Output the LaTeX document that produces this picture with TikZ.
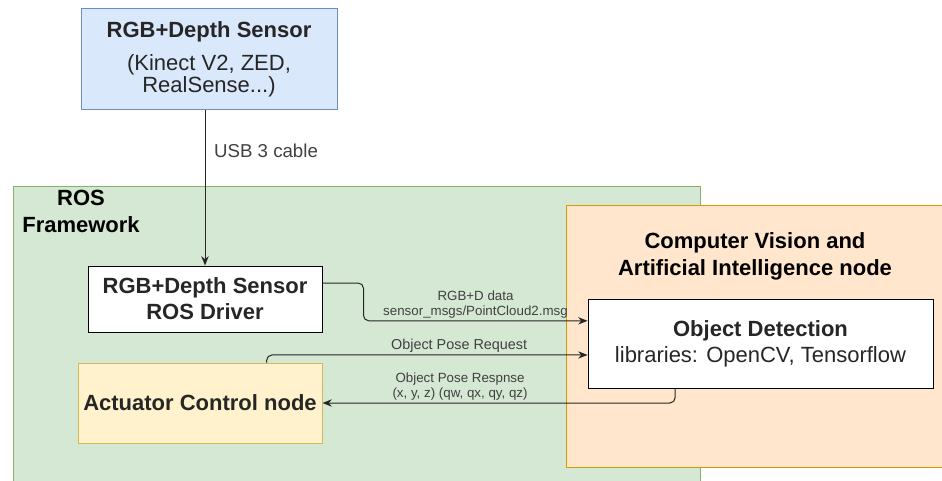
\documentclass[tikz,border=0pt]{standalone}
\usepackage{fontspec}
\setmainfont{Liberation Sans}
\usetikzlibrary{arrows.meta}

\definecolor{sensorfill}{RGB}{218,232,252}
\definecolor{sensorline}{RGB}{108,142,191}
\definecolor{rosfill}{RGB}{213,232,212}
\definecolor{rosline}{RGB}{130,179,102}
\definecolor{actfill}{RGB}{255,242,204}
\definecolor{actline}{RGB}{214,182,86}
\definecolor{cvfill}{RGB}{255,230,204}
\definecolor{cvline}{RGB}{215,155,0}

\begin{document}
\begin{tikzpicture}[x=0.75pt,y=0.75pt,yscale=-1,
  box/.style={draw=black, line width=0.75pt, inner sep=0pt, align=center, text=black!85,
    font=\fontsize{16.5}{19.5}\selectfont},
  title/.style={inner sep=0pt, align=center, font=\bfseries\fontsize{16.5}{20.25}\selectfont},
  flow/.style={draw=black!85, line width=0.75pt, rounded corners=4pt,
    -{Stealth[length=7pt,width=5.5pt]}},
  lbl/.style={inner sep=1.5pt, align=center, text=black!75, font=\fontsize{10}{11.25}\selectfont}]
\useasboundingbox (0,0) rectangle (942,481);

%Shape: Rectangle [ROS framework]
\draw [fill=rosfill, draw=rosline, line width=0.75pt] (13,187) rectangle (700,495);
%Shape: Rectangle [vision node]
\draw [fill=cvfill, draw=cvline, line width=0.75pt] (566,205) rectangle (950,467);

% Text Node
\node [title] (rostitle) at (81,211.5) {ROS\\Framework};
% Text Node
\node [title] (cvtitle) at (755,256.5) {Computer Vision and\\Artificial Intelligence node};

%Shape: Rectangle [sensor]
\node [box, fill=sensorfill, draw=sensorline, minimum width=192pt, minimum height=75.75pt,
  font=\fontsize{16.5}{16.5}\selectfont] (sensor) at (209,59.5)
  {\textbf{RGB+Depth Sensor}\\[8pt](Kinect V2, ZED,\\RealSense...)};
%Shape: Rectangle [driver]
\node [box, fill=white, minimum width=175.5pt, minimum height=49.5pt] (driver) at (205,299)
  {\textbf{RGB+Depth Sensor}\\\textbf{ROS Driver}};
%Shape: Rectangle [actuator]
\node [box, fill=actfill, draw=actline, minimum width=183pt, minimum height=60pt] (act) at (200,403)
  {\textbf{Actuator Control node}};
%Shape: Rectangle [object detection]
\node [box, fill=white, minimum width=258.75pt, minimum height=66.75pt] (objdet) at (760.5,343.5)
  {\textbf{Object Detection}\\libraries: OpenCV, Tensorflow};

%Straight Lines [usb]
\draw [flow] (driver.north |- sensor.south) -- (driver.north)
  node [lbl, pos=0.26, anchor=west, xshift=5pt, font=\fontsize{14}{16}\selectfont] {USB 3 cable};
%Connector [point cloud]
\draw [flow] ([yshift=-12pt]driver.east) -- ++(41,0) |- ([yshift=-17pt]objdet.west)
  node [lbl, pos=0.75, above] {RGB+D data\\sensor\_msgs/PointCloud2.msg};
%Connector [request]
\draw [flow] ([xshift=50pt]act.north) |- ([yshift=8.6pt]objdet.west)
  node [lbl, pos=0.8, above, font=\fontsize{10.8}{12}\selectfont] {Object Pose Request};
%Connector [response]
\draw [flow] ([xshift=-64pt]objdet.south) |- (act.east)
  node [lbl, pos=0.805, above] {Object Pose Respnse\\(x, y, z) (qw, qx, qy, qz)};

\end{tikzpicture}
\end{document}
